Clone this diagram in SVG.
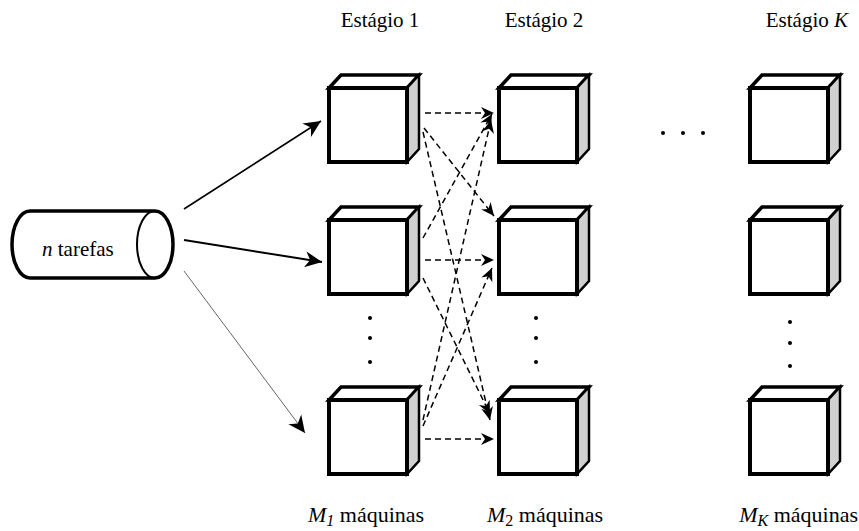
<svg xmlns="http://www.w3.org/2000/svg" width="859" height="531" viewBox="0 0 859 531">
  <style>
    text { font-family: "Liberation Serif", "DejaVu Serif", "Times New Roman", serif; font-size: 21px; fill: #000; }
    .it { font-style: italic; }
    .cnt { font-size: 22px; }
    .face { stroke: #000; stroke-linejoin: miter; }
    .dash { fill: none; stroke: #000; stroke-width: 1.5; stroke-dasharray: 6 4; }
    .dot { fill: #000; }
  </style>
  <defs>
    <marker id="head" markerUnits="userSpaceOnUse" markerWidth="20" markerHeight="20" viewBox="-18 -10 20 20" refX="0" refY="0" orient="auto">
      <path d="M0,0 L-17,-8 L-12,0 L-17,8 Z" fill="#000"/>
    </marker>
    <marker id="headS" markerUnits="userSpaceOnUse" markerWidth="16" markerHeight="16" viewBox="-14 -8 16 16" refX="0" refY="0" orient="auto">
      <path d="M0,0 L-13,-6 L-9,0 L-13,6 Z" fill="#000"/>
    </marker>
    <!-- machine: a cube, front face at the origin -->
    <g id="cube">
      <polygon class="face" points="2,2 14,-11 92,-11 80,2" fill="#fff" stroke-width="3.5"/>
      <polygon class="face" points="80,2 92,-11 92,63 80,76" fill="#d0d0d0" stroke-width="2.5"/>
      <rect class="face" x="2" y="2" width="78" height="74" fill="#fff" stroke-width="4"/>
    </g>
  </defs>

  <!-- column headings -->
  <text x="380" y="27" text-anchor="middle">Estágio 1</text>
  <text x="544" y="27" text-anchor="middle">Estágio 2</text>
  <text x="848" y="27" text-anchor="end">Estágio <tspan class="it">K</tspan></text>

  <!-- machine counts -->
  <text class="cnt" x="308" y="522"><tspan class="it">M<tspan font-size="16" dy="4">1</tspan></tspan><tspan dy="-4"> máquinas</tspan></text>
  <text class="cnt" x="487" y="522"><tspan class="it">M</tspan><tspan font-size="16" dy="4">2</tspan><tspan dy="-4"> máquinas</tspan></text>
  <text class="cnt" x="858" y="522" text-anchor="end"><tspan class="it">M<tspan font-size="16" dy="4">K</tspan></tspan><tspan dy="-4"> máquinas</tspan></text>

  <!-- job queue -->
  <g id="jobs">
    <path d="M30,211 L155,211 A18,33.5 0 0 1 155,278 L30,278 A18,33.5 0 0 1 30,211 Z" fill="#fff" stroke="#000" stroke-width="3.5"/>
    <ellipse cx="155" cy="244.5" rx="18" ry="33.5" fill="none" stroke="#000" stroke-width="2"/>
    <text x="42" y="256" style="font-size:21px"><tspan class="it">n</tspan> tarefas</text>
  </g>

  <!-- stage 1 machines -->
  <g id="s1m1"><use href="#cube" x="327" y="86"/></g>
  <g id="s1m2"><use href="#cube" x="327" y="218"/></g>
  <g id="s1m3"><use href="#cube" x="327" y="398"/></g>
  <!-- stage 2 machines -->
  <g id="s2m1"><use href="#cube" x="497" y="86"/></g>
  <g id="s2m2"><use href="#cube" x="497" y="218"/></g>
  <g id="s2m3"><use href="#cube" x="497" y="398"/></g>
  <!-- stage K machines -->
  <g id="sKm1"><use href="#cube" x="748" y="86"/></g>
  <g id="sKm2"><use href="#cube" x="748" y="218"/></g>
  <g id="sKm3"><use href="#cube" x="748" y="398"/></g>

  <!-- ellipsis dots -->
  <g id="dots">
    <circle class="dot" cx="370" cy="318" r="2"/>
    <circle class="dot" cx="370" cy="338" r="2"/>
    <circle class="dot" cx="370" cy="362" r="2"/>
    <circle class="dot" cx="536" cy="318" r="2"/>
    <circle class="dot" cx="536" cy="338" r="2"/>
    <circle class="dot" cx="536" cy="362" r="2"/>
    <circle class="dot" cx="790" cy="322" r="2"/>
    <circle class="dot" cx="790" cy="343" r="2"/>
    <circle class="dot" cx="790" cy="366" r="2"/>
    <circle class="dot" cx="663" cy="133" r="2"/>
    <circle class="dot" cx="683" cy="133" r="2"/>
    <circle class="dot" cx="703" cy="133" r="2"/>
  </g>

  <!-- connectors -->
  <g id="connectors">
    <line x1="184" y1="209" x2="321" y2="121" stroke="#000" stroke-width="1.6" marker-end="url(#head)"/>
    <line x1="184" y1="240" x2="322" y2="262" stroke="#000" stroke-width="2" marker-end="url(#head)"/>
    <line x1="184" y1="271" x2="305" y2="433" stroke="#555" stroke-width="0.9" marker-end="url(#head)"/>

    <line class="dash" x1="425" y1="113" x2="494" y2="113" marker-end="url(#headS)"/>
    <line class="dash" x1="425" y1="260" x2="494" y2="260" marker-end="url(#headS)"/>
    <line class="dash" x1="425" y1="439" x2="494" y2="439" marker-end="url(#headS)"/>

    <line class="dash" x1="424" y1="128" x2="494" y2="216" marker-end="url(#headS)"/>
    <line class="dash" x1="423" y1="132" x2="490" y2="420" marker-end="url(#headS)"/>
    <line class="dash" x1="423" y1="238" x2="492" y2="114" marker-end="url(#headS)"/>
    <line class="dash" x1="423" y1="278" x2="490" y2="414" marker-end="url(#headS)"/>
    <line class="dash" x1="423" y1="420" x2="491" y2="120" marker-end="url(#headS)"/>
    <line class="dash" x1="423" y1="426" x2="492" y2="268" marker-end="url(#headS)"/>
  </g>
</svg>
